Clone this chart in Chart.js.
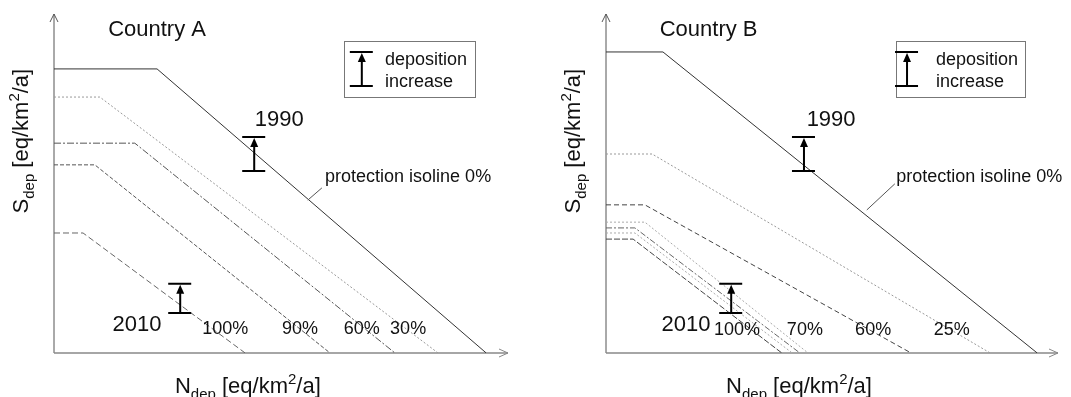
<!DOCTYPE html>
<html>
<head>
<meta charset="utf-8">
<script src="https://cdn.jsdelivr.net/npm/chart.js@4.4.1/dist/chart.umd.min.js"></script>
<style>
  html, body { margin: 0; padding: 0; background: #fff; }
  .panel { position: absolute; top: 0; }
</style>
</head>
<body>
<div class="panel" style="left:0"><canvas id="chartA" width="535" height="397"></canvas></div>
<div class="panel" style="left:535px"><canvas id="chartB" width="536" height="397"></canvas></div>
<script>
// Country A isolines: S_dep plateau, knee on N axis, N intercept (arbitrary units 0-100)
const isoNamesA = ['0%', '30%', '60%', '90%', '100%'];
const plateauA = [83.8, 75.5, 61.9, 55.5, 35.4];
const kneeA = [22.7, 10.1, 17.8, 9.0, 6.4];
const interceptA = [95.2, 84.6, 75.1, 60.8, 42.1];
const endLabelsA = ['', '30%', '60%', '90%', '100%'];
const endLabelXA = [0, 78.0, 67.8, 54.2, 37.7];

// Country B isolines
const isoNamesB = ['0%', '25%', '60%', '70%', '80%', '90%', '100%'];
const plateauB = [88.8, 58.7, 43.7, 38.6, 36.9, 35.4, 33.6];
const kneeB = [12.6, 10.2, 8.6, 8.6, 6.4, 6.4, 6.0];
const interceptB = [95.4, 85.0, 67.5, 44.7, 42.9, 41.2, 38.9];
const endLabelsB = ['', '25%', '60%', '70%', '', '', '100%'];
const endLabelXB = [0, 76.5, 59.1, 44.0, 0, 0, 29.0];

// deposition increase markers: [x, from, to]
const markersA = [[44.1, 53.7, 63.7], [27.8, 11.8, 20.4]];
const markersB = [[43.8, 53.7, 63.7], [27.7, 11.8, 20.4]];
const yearLabels = ['1990', '2010'];
const yearPosA = [[49.6, 68.7], [18.3, 8.3]];
const yearPosB = [[49.8, 68.7], [17.7, 8.3]];

const stylesA = [
  { color: '#333', dash: [] },
  { color: '#999', dash: [2, 2] },
  { color: '#555', dash: [7, 2, 2, 2] },
  { color: '#555', dash: [4, 2] },
  { color: '#666', dash: [6, 3] }
];
const stylesB = [
  { color: '#333', dash: [] },
  { color: '#999', dash: [2, 2] },
  { color: '#444', dash: [5, 3] },
  { color: '#aaa', dash: [2, 2] },
  { color: '#666', dash: [6, 2, 2, 2] },
  { color: '#aaa', dash: [2, 2] },
  { color: '#444', dash: [6, 2] }
];

const FONT = '"Liberation Sans", Arial, sans-serif';

function buildDatasets(names, plateau, knee, intercept, styles) {
  return names.map((n, i) => ({
    label: n,
    data: [
      { x: 0, y: plateau[i] },
      { x: knee[i], y: plateau[i] },
      { x: intercept[i], y: 0 }
    ],
    showLine: true,
    borderColor: styles[i].color,
    borderDash: styles[i].dash,
    borderWidth: 1,
    pointRadius: 0,
    tension: 0
  }));
}

// draws text made of parts: {t, sub, sup}
function richText(ctx, parts, x, y, size, align) {
  const small = Math.round(size * 0.68);
  let total = 0;
  parts.forEach(p => {
    ctx.font = ((p.sub || p.sup) ? small : size) + 'px ' + FONT;
    p.w = ctx.measureText(p.t).width;
    total += p.w;
  });
  let cx = align === 'center' ? x - total / 2 : x;
  ctx.textAlign = 'left';
  ctx.textBaseline = 'alphabetic';
  parts.forEach(p => {
    ctx.font = ((p.sub || p.sup) ? small : size) + 'px ' + FONT;
    let dy = p.sub ? size * 0.28 : (p.sup ? -size * 0.4 : 0);
    ctx.fillText(p.t, cx, y + dy);
    cx += p.w;
  });
}

function axisTitle(t) {
  return [{ t: t }, { t: 'dep', sub: true }, { t: ' [eq/km' }, { t: '2', sup: true }, { t: '/a]' }];
}

function drawIBeam(ctx, px, pTop, pBot) {
  ctx.save();
  ctx.strokeStyle = '#000';
  ctx.fillStyle = '#000';
  ctx.lineWidth = 2;
  ctx.setLineDash([]);
  ctx.beginPath();
  ctx.moveTo(px - 12, pTop); ctx.lineTo(px + 11, pTop);
  ctx.moveTo(px - 12, pBot); ctx.lineTo(px + 11, pBot);
  ctx.moveTo(px, pBot); ctx.lineTo(px, pTop + 8);
  ctx.stroke();
  ctx.beginPath();
  ctx.moveTo(px, pTop + 1);
  ctx.lineTo(px - 4, pTop + 10);
  ctx.lineTo(px + 4, pTop + 10);
  ctx.closePath();
  ctx.fill();
  ctx.restore();
}

function makePlugin(cfg) {
  return {
    id: 'deco',
    beforeDatasetsDraw(chart) {
      const { ctx, chartArea: a } = chart;
      ctx.save();
      ctx.setLineDash([]);
      // y axis
      ctx.strokeStyle = '#555';
      ctx.lineWidth = 1;
      ctx.beginPath();
      ctx.moveTo(a.left, a.bottom); ctx.lineTo(a.left, a.top);
      ctx.moveTo(a.left - 4, a.top + 8); ctx.lineTo(a.left, a.top); ctx.lineTo(a.left + 4, a.top + 8);
      ctx.stroke();
      // x axis
      ctx.strokeStyle = '#888';
      ctx.lineWidth = 1.6;
      ctx.beginPath();
      ctx.moveTo(a.left, a.bottom); ctx.lineTo(a.right, a.bottom);
      ctx.stroke();
      ctx.lineWidth = 1;
      ctx.beginPath();
      ctx.moveTo(a.right - 9, a.bottom - 4); ctx.lineTo(a.right, a.bottom); ctx.lineTo(a.right - 9, a.bottom + 4);
      ctx.stroke();
      ctx.restore();
    },
    afterDatasetsDraw(chart) {
      const { ctx, chartArea: a } = chart;
      const xs = chart.scales.x, ys = chart.scales.y;
      const X = v => xs.getPixelForValue(v), Y = v => ys.getPixelForValue(v);
      ctx.save();
      ctx.fillStyle = '#111';
      ctx.textBaseline = 'middle';
      ctx.textAlign = 'center';

      // title
      ctx.font = '22px ' + FONT;
      ctx.fillText(cfg.title, X(22.7), Y(95.3));

      // years + markers
      cfg.markers.forEach((m, i) => {
        drawIBeam(ctx, X(m[0]), Y(m[2]), Y(m[1]));
        ctx.font = '22px ' + FONT;
        ctx.textAlign = 'center';
        ctx.textBaseline = 'middle';
        ctx.fillText(yearLabels[i], X(cfg.yearPos[i][0]), Y(cfg.yearPos[i][1]));
      });

      // isoline end labels
      ctx.font = '18px ' + FONT;
      ctx.textAlign = 'center';
      ctx.textBaseline = 'middle';
      cfg.endLabels.forEach((t, i) => {
        if (t) ctx.fillText(t, X(cfg.endLabelX[i]), Y(cfg.labelY));
      });

      // protection isoline label and leader
      ctx.textAlign = 'left';
      ctx.fillText('protection isoline 0%', X(cfg.protX), Y(51.9));
      ctx.strokeStyle = '#555';
      ctx.lineWidth = 1;
      ctx.beginPath();
      ctx.moveTo(X(cfg.leader[0]), Y(cfg.leader[1]));
      ctx.lineTo(X(cfg.leader[2]), Y(cfg.leader[3]));
      ctx.stroke();

      // legend box
      const bx1 = X(cfg.box[0]), bx2 = X(cfg.box[1]);
      const by1 = Y(92.0), by2 = Y(75.5);
      ctx.strokeStyle = '#777';
      ctx.lineWidth = 1;
      ctx.strokeRect(Math.round(bx1) + 0.5, Math.round(by1) + 0.5, Math.round(bx2 - bx1), Math.round(by2 - by1));
      drawIBeam(ctx, X(cfg.box[2]), by1 + 11, by2 - 11);
      ctx.fillStyle = '#111';
      ctx.font = '18px ' + FONT;
      ctx.textAlign = 'left';
      ctx.textBaseline = 'middle';
      ctx.fillText('deposition', X(cfg.box[3]), by1 + 19);
      ctx.fillText('increase', X(cfg.box[3]), by1 + 41);

      // axis titles
      richText(ctx, axisTitle('N'), X(cfg.xTitleX), a.bottom + 40, 22, 'center');
      ctx.save();
      ctx.translate(a.left - 26, Y(62.5));
      ctx.rotate(-Math.PI / 2);
      richText(ctx, axisTitle('S'), 0, 0, 22, 'center');
      ctx.restore();
      ctx.restore();
    }
  };
}

function makeChart(id, datasets, padding, cfg) {
  return new Chart(document.getElementById(id), {
    type: 'scatter',
    data: { datasets: datasets },
    options: {
      responsive: false,
      animation: false,
      devicePixelRatio: 1,
      layout: { padding: padding },
      scales: {
        x: { type: 'linear', min: 0, max: 100, display: false },
        y: { type: 'linear', min: 0, max: 100, display: false }
      },
      plugins: { legend: { display: false }, tooltip: { enabled: false } }
    },
    plugins: [makePlugin(cfg)]
  });
}

makeChart('chartA', buildDatasets(isoNamesA, plateauA, kneeA, interceptA, stylesA),
  { left: 54, right: 27, top: 14, bottom: 44 },
  {
    title: 'Country A', markers: markersA, yearPos: yearPosA,
    endLabels: endLabelsA, endLabelX: endLabelXA, labelY: 7.1,
    protX: 59.7, leader: [55.9, 45.1, 59.0, 48.7],
    box: [63.9, 92.7, 67.8, 72.9], xTitleX: 42.7
  });

makeChart('chartB', buildDatasets(isoNamesB, plateauB, kneeB, interceptB, stylesB),
  { left: 71, right: 13, top: 14, bottom: 44 },
  {
    title: 'Country B', markers: markersB, yearPos: yearPosB,
    endLabels: endLabelsB, endLabelX: endLabelXB, labelY: 6.8,
    protX: 64.2, leader: [57.7, 42.2, 63.9, 49.9],
    box: [64.2, 92.7, 66.6, 73.0], xTitleX: 42.7
  });
</script>
</body>
</html>
